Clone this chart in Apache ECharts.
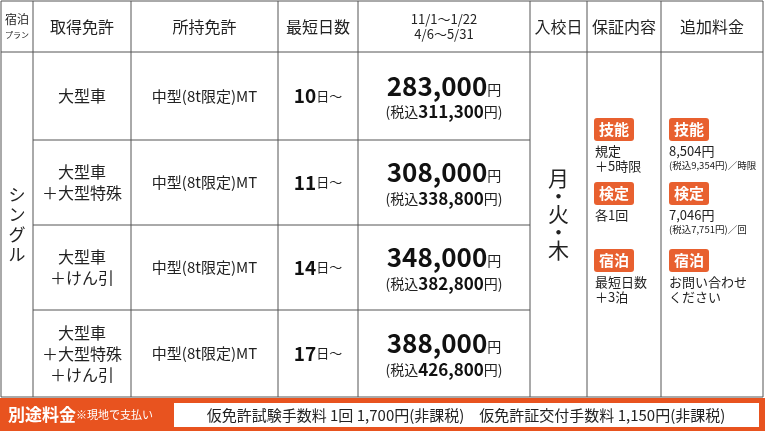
<!DOCTYPE html><html><head><meta charset="utf-8">
<script src="https://cdn.jsdelivr.net/npm/echarts@6/dist/echarts.min.js"></script>
<style>html,body{margin:0;padding:0;background:#fff}#c{width:765px;height:435px}</style></head><body><div id="c"></div>
<script>
const headers=['宿泊\nプラン','取得免許','所持免許','最短日数','11/1〜1/22\n4/6〜5/31','入校日','保証内容','追加料金'];
const acquire=['大型車','大型車\n＋大型特殊','大型車\n＋けん引','大型車\n＋大型特殊\n＋けん引'];
const holding=['中型(8t限定)MT','中型(8t限定)MT','中型(8t限定)MT','中型(8t限定)MT'];
const days=['10','11','14','17'];
const prices=['283,000','308,000','348,000','388,000'];
const taxPrices=['311,300','338,800','382,800','426,800'];
const plan='シングル';
const entry='月・火・木';
const guaranteeTags=['技能','検定','宿泊'];
const guaranteeText=['規定\n＋5時限','各1回','最短日数\n＋3泊'];
const extraMain=['8,504円','7,046円','お問い合わせ\nください'];
const extraSub=['(税込9,354円)／時限','(税込7,751円)／回',''];
const footerLabel='別途料金';
const footerNote='※現地で支払い';
const footerText='仮免許試験手数料 1回 1,700円(非課税)　仮免許証交付手数料 1,150円(非課税)';

const colX=[1,33,131,278,358,530,587,661,763];
const rowY=[1,52,140,225,310,397];
const OR='#e8602f', LC='#555', F='"Noto Sans CJK JP","Noto Sans",sans-serif';
const g=[];
const line=(x1,y1,x2,y2)=>g.push({type:'line',shape:{x1,y1,x2,y2},style:{stroke:LC,lineWidth:1}});
const txt=(x,y,t,o={})=>g.push({type:'text',x,y,style:Object.assign({text:t,fill:'#222',font:'14px '+F,align:'center',verticalAlign:'middle'},o)});
g.push({type:'rect',shape:{x:colX[0],y:rowY[0],width:colX[8]-colX[0],height:rowY[5]-rowY[0]},style:{fill:'#fff',stroke:LC,lineWidth:1}});
colX.slice(1,-1).forEach(x=>line(x,rowY[0],x,rowY[5]));
line(colX[0],rowY[1],colX[8],rowY[1]);
[2,3,4].forEach(i=>line(colX[1],rowY[i],colX[5],rowY[i]));
headers.forEach((h,i)=>{const cx=(colX[i]+colX[i+1])/2,cy=(rowY[0]+rowY[1])/2;
 if(i===0){txt(cx,cy-7,'宿泊',{font:'12px '+F});txt(cx,cy+8,'プラン',{font:'8px '+F});}
 else if(i===4) txt(cx,cy,h,{font:'13px '+F,lineHeight:15});
 else txt(cx,cy,h,{font:'16px '+F});});
acquire.forEach((a,r)=>{const cy=(rowY[r+1]+rowY[r+2])/2;
 txt((colX[1]+colX[2])/2,cy,a,{font:'16px '+F,lineHeight:21});
 txt((colX[2]+colX[3])/2,cy,holding[r],{font:'15px '+F});
 txt((colX[3]+colX[4])/2,cy,'{b|'+days[r]+'}{s|日〜}',{rich:{b:{font:'bold 19px '+F,fill:'#111'},s:{font:'13px '+F,fill:'#222'}}});
 const px=(colX[4]+colX[5])/2;
 txt(px,cy-10,'{b|'+prices[r]+'}{s|円}',{rich:{b:{font:'bold 26px '+F,fill:'#111'},s:{font:'14px '+F,fill:'#222',padding:[7,0,0,0]}}});
 txt(px,cy+16,'{s|(税込}{b|'+taxPrices[r]+'}{s|円)}',{rich:{b:{font:'bold 17px '+F,fill:'#111'},s:{font:'14px '+F,fill:'#222'}}});
});
txt((colX[0]+colX[1])/2,(rowY[1]+rowY[5])/2,plan.split('').join('\n'),{font:'17px '+F,lineHeight:20});
txt((colX[5]+colX[6])/2,(rowY[1]+rowY[5])/2-10,entry.split('').join('\n'),{font:'21px '+F,lineHeight:18});
const tagY=[129,193,260];
guaranteeTags.forEach((t,i)=>{
 [colX[6]+7,colX[7]+8].forEach(x=>{g.push({type:'rect',shape:{x,y:tagY[i]-11,width:40,height:23,r:3},style:{fill:OR}});
  txt(x+20,tagY[i],t,{fill:'#fff',font:'bold 15px '+F});});
 txt(colX[6]+8,tagY[i]+15,guaranteeText[i],{align:'left',verticalAlign:'top',font:'13px '+F,lineHeight:15});
 txt(colX[7]+8,tagY[i]+15,extraMain[i],{align:'left',verticalAlign:'top',font:'13px '+F,lineHeight:15});
 if(extraSub[i]) txt(colX[7]+8,tagY[i]+32,extraSub[i],{align:'left',verticalAlign:'top',font:'9.5px '+F});
});
g.push({type:'rect',shape:{x:0,y:398,width:765,height:33},style:{fill:'#e8531f'}});
g.push({type:'rect',shape:{x:174,y:403,width:585,height:24},style:{fill:'#fff'}});
txt(8,415,'{a|'+footerLabel+'}{n|'+footerNote+'}',{align:'left',rich:{a:{font:'bold 17px '+F,fill:'#fff'},n:{font:'11px '+F,fill:'#fff'}}});
txt(466,415,footerText,{font:'15px '+F});
const ch=echarts.init(document.getElementById('c'));
ch.setOption({animation:false,graphic:g});
</script></body></html>
